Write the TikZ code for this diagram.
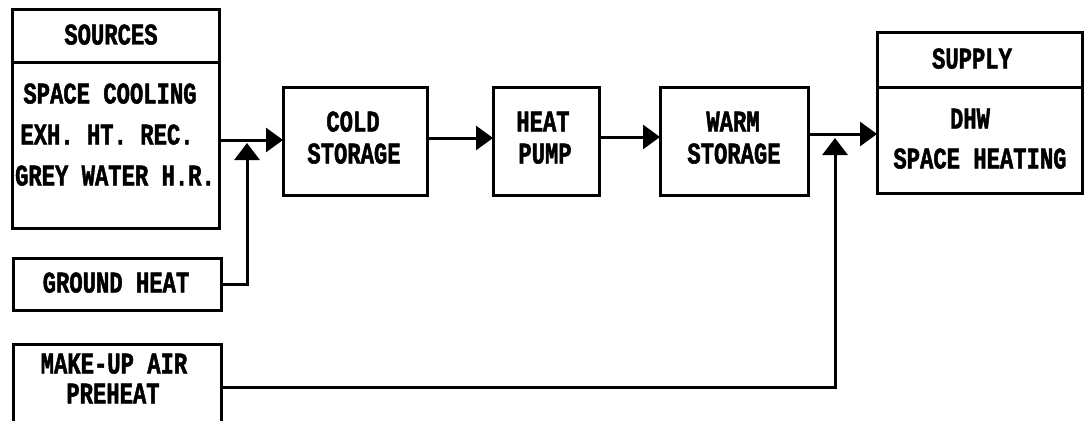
\documentclass[tikz,border=0pt]{standalone}
\usepackage{fontspec}
\usetikzlibrary{arrows.meta}
\newfontfamily\lblfont{Liberation Mono}[FakeStretch=0.74,FakeBold=1.6]
\begin{document}
\begin{tikzpicture}[x=1pt,y=-1pt,
  box/.style={draw, line width=3pt, rectangle, inner sep=0pt, outer sep=0pt},
  lbl/.style={font=\lblfont\bfseries\fontsize{30}{30}\selectfont, inner sep=0pt, text height=17pt, text depth=0pt},
  flow/.style={line width=3pt, -{Triangle[length=17pt,width=24pt]}},
  feed/.style={line width=3pt, -{Triangle[length=17pt,width=25pt]}}]
\useasboundingbox (0,0) rectangle (1086,420);
% sources
\node[box, minimum width=207pt, minimum height=53pt] (srchead) at (115.5,36.5) {};
\node[box, minimum width=207pt, minimum height=165pt] (srcbody) at (115.5,145.5) {};
\node[lbl] (tsrc) at (111,36) {SOURCES};
\node[lbl] (tsc) at (110,95) {SPACE COOLING};
\node[lbl] (tex) at (107,136) {EXH. HT. REC.};
\node[lbl] (tgw) at (115,177) {GREY WATER H.R.};
% ground heat
\node[box, minimum width=208pt, minimum height=52pt] (ground) at (117,284) {};
\node[lbl] (tgr) at (116,284) {GROUND HEAT};
% make-up air
\begin{scope}
\clip (0,0) rectangle (1086,420);
\node[box, minimum width=208pt, minimum height=86pt] (makeup) at (117,387) {};
\end{scope}
\node[lbl] (tmu) at (114,365) {MAKE-UP AIR};
\node[lbl] (tph) at (113,395) {PREHEAT};
% chain
\node[box, minimum width=144pt, minimum height=108pt] (cold) at (355,141) {};
\node[lbl] (tc1) at (353,123) {COLD};
\node[lbl] (tc2) at (354,155) {STORAGE};
\node[box, minimum width=106pt, minimum height=108pt] (hp) at (546,141) {};
\node[lbl] (th1) at (543,123) {HEAT};
\node[lbl] (th2) at (545,155) {PUMP};
\node[box, minimum width=148pt, minimum height=108pt] (warm) at (734,141) {};
\node[lbl] (tw1) at (733,123) {WARM};
\node[lbl] (tw2) at (734,155) {STORAGE};
% supply
\node[box, minimum width=205pt, minimum height=54pt] (suphead) at (979.5,60) {};
\node[box, minimum width=205pt, minimum height=106pt] (supbody) at (979.5,140) {};
\node[lbl] (tsu) at (972,60) {SUPPLY};
\node[lbl] (tdhw) at (970,120) {DHW};
\node[lbl] (tsh) at (980,160) {SPACE HEATING};
% connectors
\coordinate (l1) at (0,140);
\coordinate (l2) at (0,138);
\coordinate (l3) at (0,137);
\coordinate (l4) at (0,134);
\coordinate (up1) at (247,143);
\coordinate (up2) at (835,138);
\draw[flow] (srcbody.east |- l1) -- (cold.west |- l1);
\draw[flow] (cold.east |- l2) -- (hp.west |- l2);
\draw[flow] (hp.east |- l3) -- (warm.west |- l3);
\draw[flow] (warm.east |- l4) -- (supbody.west |- l4);
\draw[feed] (ground.east) -| (up1);
\draw[feed] (makeup.east) -| (up2);
\end{tikzpicture}
\end{document}
